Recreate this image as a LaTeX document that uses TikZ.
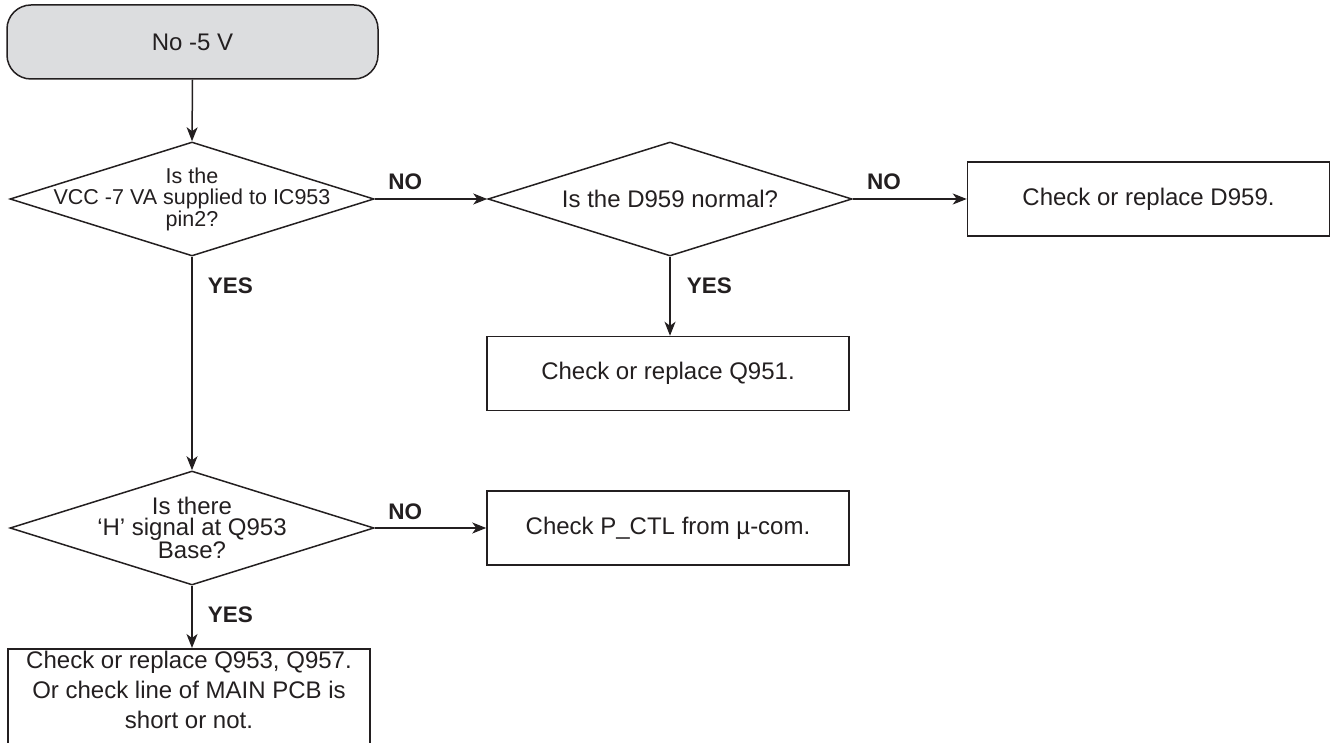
\documentclass[tikz,border=0pt]{standalone}
\usepackage{fontspec}
\setmainfont{Liberation Sans}
\usetikzlibrary{shapes.geometric,arrows.meta}
\definecolor{ink}{HTML}{231F20}
\definecolor{startfill}{HTML}{DCDDDF}
\begin{document}
\begin{tikzpicture}[x=1pt,y=-1pt,
  every node/.style={text=ink},
  outline/.style={draw=ink, line width=1.5pt},
  startbox/.style={outline, rectangle, rounded corners=24pt, fill=startfill,
    minimum width=371pt, minimum height=74pt, inner sep=0pt,
    font=\fontsize{24}{28}\selectfont},
  decision/.style={outline, diamond, minimum width=364pt, minimum height=114pt, inner sep=0pt},
  qtext/.style={align=center, inner sep=0pt},
  actbox/.style={outline, rectangle, minimum width=362pt, minimum height=74pt,
    inner sep=0pt, align=center, font=\fontsize{24}{28}\selectfont},
  flow/.style={draw=ink, line width=1.5pt, -{Stealth[length=14pt,width=11pt,inset=4pt]}},
  lab/.style={inner sep=0pt, font=\bfseries\fontsize{22.5}{24}\selectfont},
]
\useasboundingbox (0,0) rectangle (1332,743);
\clip (0,0) rectangle (1332,743);

% start
\node[startbox] (start) at (192.5,42) {No -5 V};

% first question
\node[decision] (d1) at (192,199) {};
\node[qtext, font=\fontsize{21.5}{21.5}\selectfont] (d1t) at (d1.center)
  {Is the\\VCC -7 VA supplied to IC953\\pin2?};

% second question
\node[decision] (d2) at (670,199) {};
\node[qtext, font=\fontsize{24}{24}\selectfont] (d2t) at (d2.center) {Is the D959 normal?};

% third question
\node[decision] (d3) at (192,528) {};
\node[qtext, font=\fontsize{24}{21.5}\selectfont] (d3t) at (d3.center)
  {Is there\\‘H’ signal at Q953\\Base?};

% actions
\node[actbox] (a1) at (1148.5,199) {Check or replace D959.};
\node[actbox] (a2) at (668,373.5) {Check or replace Q951.};
\node[actbox] (a3) at (668,528) {Check P\_CTL from µ-com.};
\node[actbox, minimum height=130pt, anchor=north] (a4) at (189,648) {};
\node[qtext, font=\fontsize{24}{30}\selectfont] (a4t) at (189,690)
  {Check or replace Q953, Q957.\\Or check line of MAIN PCB is\\short or not.};

% connectors
\draw[flow] (start.south) -- (d1.north);
\draw[flow] (d1.east) -- node[lab, pos=0.115, anchor=south west, yshift=9pt] {NO} (d2.west);
\draw[flow] (d2.east) -- node[lab, pos=0.12, anchor=south west, yshift=9pt] {NO} (a1.west);
\draw[flow] (d2.south) -- node[lab, pos=0.26, anchor=north west, xshift=16pt] {YES} (d2.south |- a2.north);
\draw[flow] (d1.south) -- node[lab, pos=0.093, anchor=north west, xshift=15pt] {YES} (d3.north);
\draw[flow] (d3.east) -- node[lab, pos=0.115, anchor=south west, yshift=8pt] {NO} (a3.west);
\draw[flow] (d3.south) -- node[lab, pos=0.32, anchor=north west, xshift=15pt] {YES} (d3.south |- a4.north);
\end{tikzpicture}
\end{document}
